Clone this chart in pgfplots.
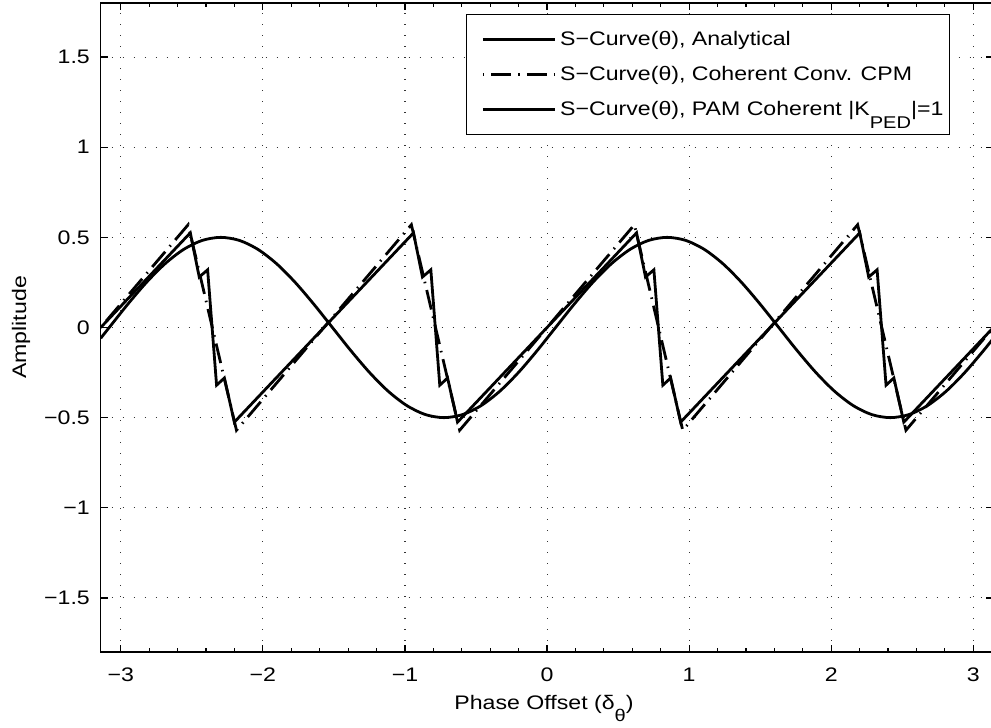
\documentclass[border=0pt]{standalone}
\usepackage{fontspec}
\setmainfont[FakeStretch=1.18]{Liberation Sans}
\usepackage{pgfplots}
\pgfplotsset{compat=1.18}
\newcommand{\fs}{\fontsize{9.8}{11.5}\selectfont}
\newcommand{\msub}[2]{\raisebox{-#1}{\fontsize{8.5}{9}\selectfont #2}}
\begin{document}
\begin{tikzpicture}
\begin{axis}[
  name=ax, scale only axis, width=446.35pt, height=324.5pt,
  xmin=-3.14159, xmax=3.14159, ymin=-1.8, ymax=1.8,
  xtick={-3,-2,-1,0,1,2,3}, xticklabels={−3,−2,−1,0,1,2,3},
  ytick={-1.5,-1,-0.5,0,0.5,1,1.5}, yticklabels={−1.5,−1,−0.5,0,0.5,1,1.5},
  minor x tick num=4,
  tick align=inside, major tick length=3.6pt, minor tick length=1.8pt,
  grid=major,
  major grid style={black!80, line width=0.55pt, dash pattern=on 0.55pt off 4.95pt},
  axis line style={line width=0.6pt},
  every tick/.style={black, line width=0.6pt},
  tick label style={font=\fs},
  xticklabel style={yshift=-4.6pt},
  yticklabel style={xshift=-1.9pt},
  xlabel={Phase Offset (δ\msub{6pt}{θ})},
  ylabel={Amplitude},
  label style={font=\fs},
  xlabel style={at={(axis description cs:0.4966,-0.089)}, anchor=base},
  ylabel style={at={(axis description cs:-0.0893,0.5)}, anchor=center},
  legend style={at={(1,1)}, anchor=north east, xshift=-21.7pt, yshift=-5.5pt,
    draw=black, line width=0.6pt, font=\fs, inner xsep=1pt, inner ysep=6pt,
    row sep=4.5pt, cells={anchor=west, text height=7.5pt, text depth=2.5pt, inner ysep=0pt, inner xsep=2.5pt}},
  legend cell align=left,
  legend image code/.code={\path (0pt,0pt); \draw[#1] (6.5pt,0pt) -- (42.5pt,0pt);},
]
% Analytical (stepped sawtooth)
\addplot[black, line width=1.4pt] coordinates {
(-3.1416,0) (-2.511,0.525) (-2.448,0.28) (-2.389,0.32) (-2.326,-0.32) (-2.271,-0.28) (-2.201,-0.525)
(-0.940,0.525) (-0.877,0.28) (-0.818,0.32) (-0.755,-0.32) (-0.700,-0.28) (-0.630,-0.525)
(0.630,0.525) (0.693,0.28) (0.752,0.32) (0.815,-0.32) (0.870,-0.28) (0.940,-0.525)
(2.201,0.525) (2.264,0.28) (2.323,0.32) (2.386,-0.32) (2.441,-0.28) (2.511,-0.525)
(3.1416,0)
};
\addlegendentry{S−Curve(θ), Analytical}
% Coherent Conv. CPM (dash-dot sawtooth)
\addplot[black, line width=1.4pt, dash pattern=on 10pt off 3.5pt on 0.75pt off 3.5pt, dash phase=13.5pt] coordinates {
(-3.1416,0) (-2.526,0.57) (-2.186,-0.57)
(-0.955,0.57) (-0.615,-0.57)
(0.615,0.57) (0.955,-0.57)
(2.186,0.57) (2.526,-0.57)
(3.1416,0)
};
\addlegendentry{S−Curve(θ), Coherent Conv. CPM}
% PAM coherent (sinusoid)
\addplot[black, line width=1.4pt, smooth] coordinates {
(-3.1416,-0.0598) (-3.0816,0) (-2.9507,0.1294) (-2.8198,0.25) (-2.6889,0.3536) (-2.5580,0.4330)
(-2.4271,0.4830) (-2.2962,0.5) (-2.1653,0.4830) (-2.0344,0.4330) (-1.9035,0.3536) (-1.7726,0.25)
(-1.6417,0.1294) (-1.5108,0) (-1.3799,-0.1294) (-1.2490,-0.25) (-1.1181,-0.3536) (-0.9872,-0.4330)
(-0.8563,-0.4830) (-0.7254,-0.5) (-0.5945,-0.4830) (-0.4636,-0.4330) (-0.3327,-0.3536) (-0.2018,-0.25)
(-0.0709,-0.1294) (0.0600,0) (0.1909,0.1294) (0.3218,0.25) (0.4527,0.3536) (0.5836,0.4330)
(0.7145,0.4830) (0.8454,0.5) (0.9763,0.4830) (1.1072,0.4330) (1.2381,0.3536) (1.3690,0.25)
(1.4999,0.1294) (1.6308,0) (1.7617,-0.1294) (1.8926,-0.25) (2.0235,-0.3536) (2.1544,-0.4330)
(2.2853,-0.4830) (2.4162,-0.5) (2.5471,-0.4830) (2.6780,-0.4330) (2.8089,-0.3536) (2.9398,-0.25)
(3.0707,-0.1294) (3.1416,-0.0598)
};
\addlegendentry{S−Curve(θ), PAM Coherent |K\msub{6.5pt}{PED}|=1}
\end{axis}
\pgfresetboundingbox
\useasboundingbox ([shift={(-50.35pt,-38pt)}]ax.south west) rectangle ([shift={(445.15pt,326pt)}]ax.south west);
\end{tikzpicture}
\end{document}
